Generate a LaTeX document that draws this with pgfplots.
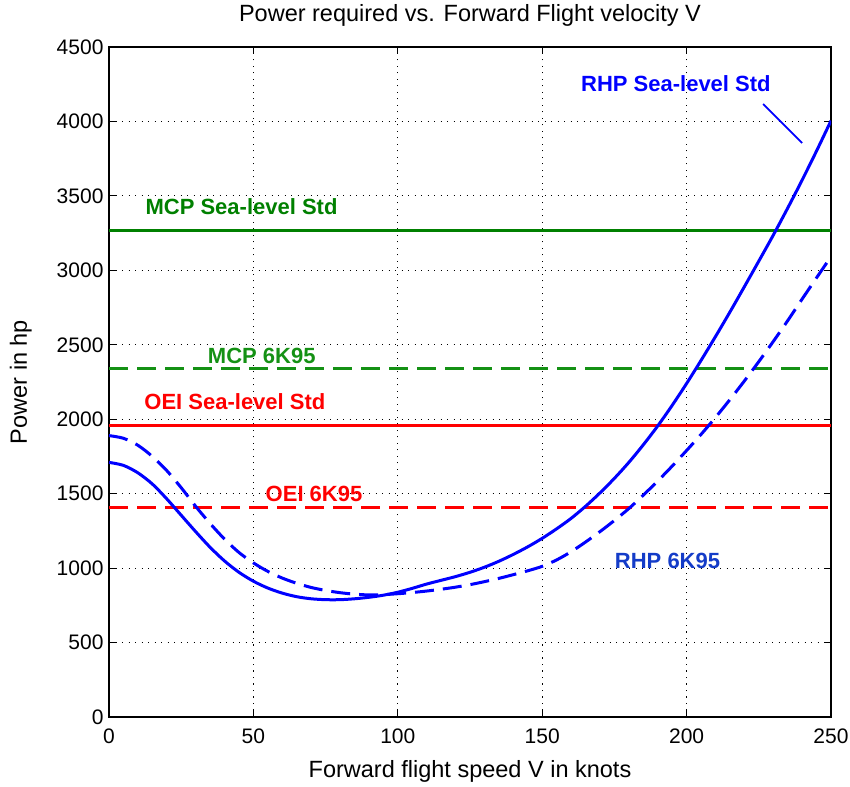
\documentclass[border=0pt]{standalone}
\usepackage{pgfplots}
\pgfplotsset{compat=1.18}
\usepackage{fontspec}
\setmainfont{Liberation Sans}
\definecolor{mgreen}{RGB}{0,128,0}
\definecolor{mgreen2}{RGB}{20,145,20}
\definecolor{tblue}{RGB}{20,60,200}
\begin{document}
\begin{tikzpicture}
\begin{axis}[
  name=ax,
  scale only axis,
  width=722pt, height=670pt,
  xmin=0, xmax=250, ymin=0, ymax=4500,
  xtick={0,50,...,250},
  ytick={0,500,...,4500},
  tick align=inside,
  major tick length=7pt,
  minor tick num=0,
  axis line style={line width=1.2pt},
  every tick/.style={black, line width=1pt},
  grid=major,
  major grid style={black, line width=1.1pt, dash pattern=on 1.1pt off 5.4pt},
  /pgf/number format/assume math mode=true,
  /pgf/number format/1000 sep={},
  tick label style={font=\fontsize{21}{25}\selectfont},
  xticklabel style={anchor=base, yshift=-26pt},
  yticklabel style={anchor=east, xshift=-2pt},
  xlabel={Forward flight speed V in knots},
  ylabel={Power in hp},
  every axis x label/.style={at={(axis description cs:0.5,-0.091)}, anchor=base, font=\fontsize{23.5}{28}\selectfont},
  every axis y label/.style={at={(axis description cs:-0.1136,0.5)}, anchor=base, rotate=90, font=\fontsize{23.5}{28}\selectfont},
  title={Power required vs. Forward Flight velocity V},
  title style={font=\fontsize{23.5}{28}\selectfont, at={(axis description cs:0.5,1.0284)}, anchor=base},
  clip=true,
]
% horizontal limits
\addplot[mgreen, line width=3pt] coordinates {(0,3270) (250,3270)};
\addplot[mgreen2, line width=3pt, dash pattern=on 19pt off 9pt] coordinates {(0,2340) (250,2340)};
\addplot[red, line width=3pt] coordinates {(0,1955) (250,1955)};
\addplot[red, line width=3pt, dash pattern=on 19pt off 9pt] coordinates {(0,1405) (250,1405)};
% RHP sea level std
\addplot[blue, line width=3pt, smooth] coordinates {
(0,1710) (5,1690) (10,1640) (15,1565) (20,1465) (25,1355) (30,1245) (35,1140)
(40,1048) (45,972) (50,912) (55,866) (60,832) (65,808) (70,794) (75,788)
(80,788) (85,794) (90,804) (95,818) (100,838) (105,864) (110,893) (115,918)
(120,943) (125,972) (130,1006) (135,1046) (140,1092) (145,1143) (150,1200)
(155,1264) (160,1334) (165,1415) (170,1505) (175,1603) (180,1710) (185,1828)
(190,1955) (195,2093) (200,2240) (205,2395) (210,2555) (215,2720) (220,2890)
(225,3062) (230,3236) (235,3418) (240,3606) (245,3802) (250,4005)};
% RHP 6K95
\addplot[blue, line width=3pt, smooth, dash pattern=on 19pt off 9pt] coordinates {
(0,1890) (5,1872) (10,1825) (15,1750) (20,1655) (25,1540) (30,1415) (35,1300)
(40,1195) (45,1105) (50,1035) (55,978) (60,933) (65,898) (70,870) (75,850)
(80,835) (85,825) (90,820) (95,822) (100,828) (105,836) (110,846) (115,858)
(120,872) (125,889) (130,909) (135,931) (140,956) (145,982) (150,1012)
(155,1055) (160,1110) (165,1175) (170,1245) (175,1320) (180,1400) (185,1490)
(190,1585) (195,1685) (200,1790) (205,1898) (210,2012) (215,2132) (220,2257)
(225,2387) (230,2522) (235,2662) (240,2807) (245,2950) (250,3092)};
% annotation pointer
\addplot[blue, line width=1.8pt] coordinates {(226.5,4117) (240,3855)};
% labels
\node[anchor=base, text=mgreen, font=\fontsize{22}{26}\selectfont\bfseries] at (axis cs:45.9,3378) {MCP Sea-level Std};
\node[anchor=base, text=mgreen2, font=\fontsize{22}{26}\selectfont\bfseries] at (axis cs:52.9,2375) {MCP 6K95};
\node[anchor=base, text=red, font=\fontsize{22}{26}\selectfont\bfseries] at (axis cs:43.6,2068) {OEI Sea-level Std};
\node[anchor=base, text=red, font=\fontsize{22}{26}\selectfont\bfseries] at (axis cs:71.0,1446) {OEI 6K95};
\node[anchor=base, text=tblue, font=\fontsize{22}{26}\selectfont\bfseries] at (axis cs:193.4,999) {RHP 6K95};
\node[anchor=base, text=blue, font=\fontsize{22}{26}\selectfont\bfseries] at (axis cs:196.3,4200) {RHP Sea-level Std};
\end{axis}
\pgfresetboundingbox
\path ([xshift=-109pt,yshift=-69pt]ax.south west) rectangle ([xshift=19pt,yshift=47pt]ax.north east);
\end{tikzpicture}
\end{document}
